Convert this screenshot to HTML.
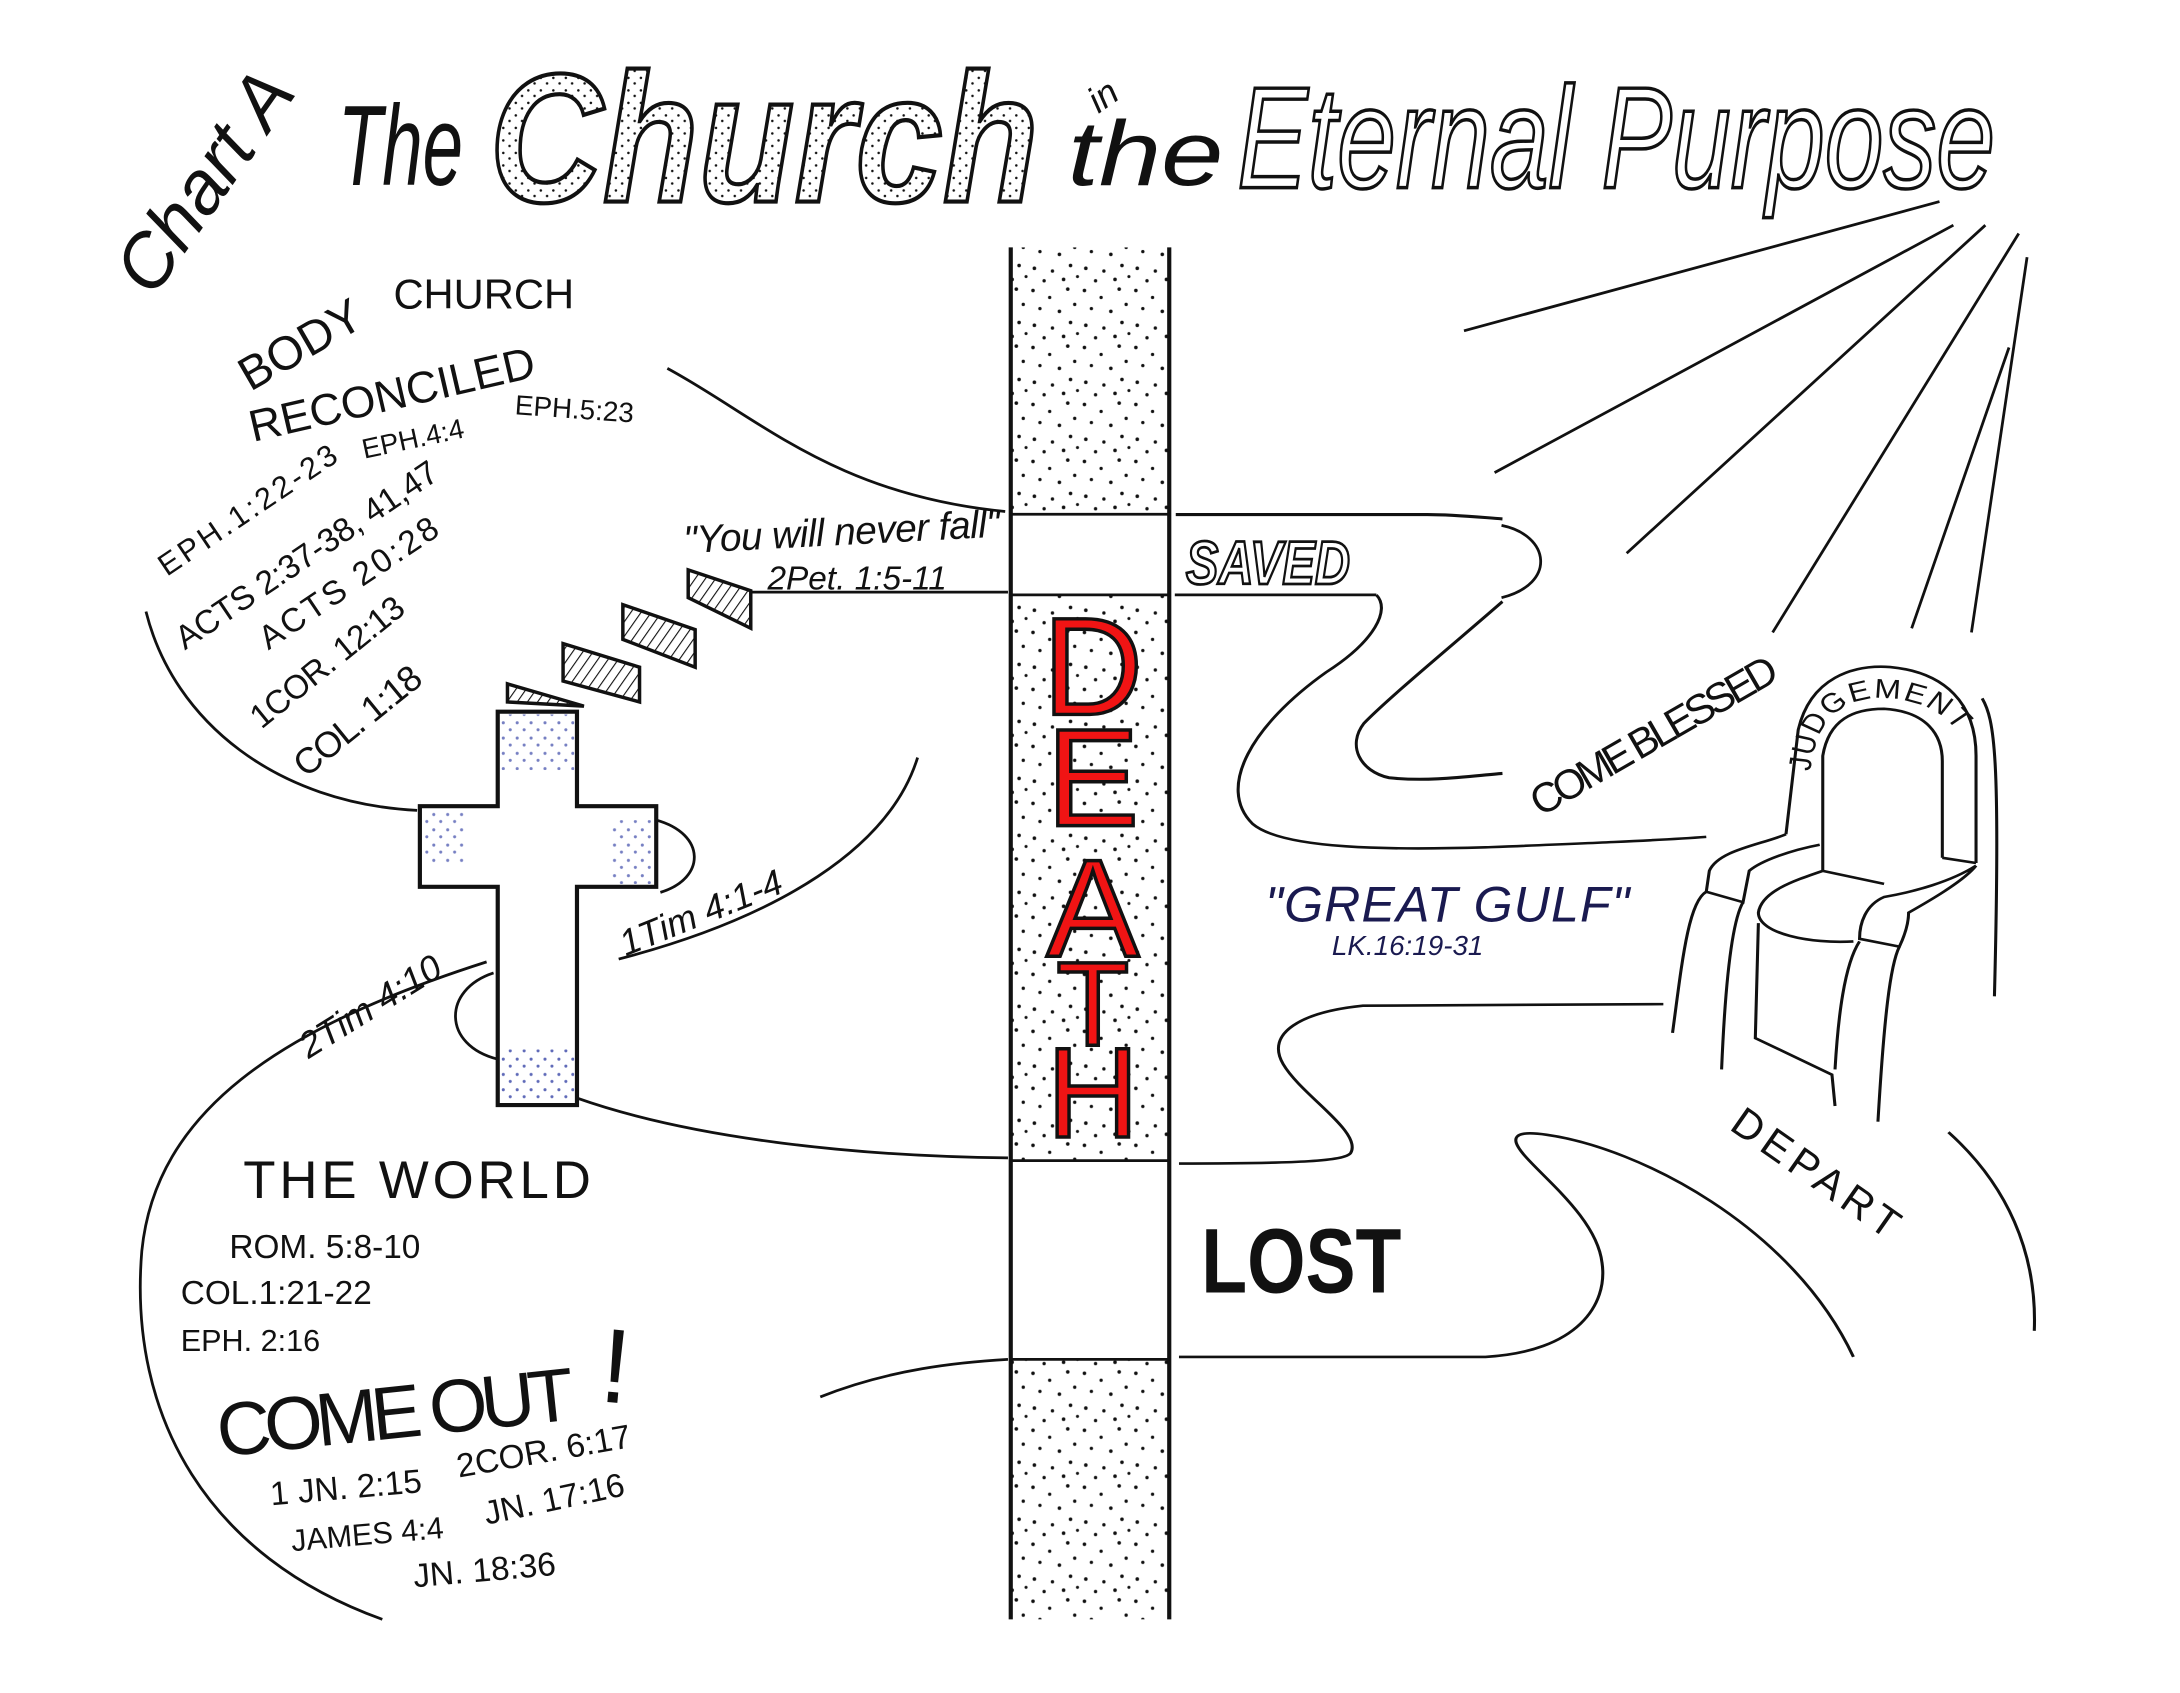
<!DOCTYPE html>
<html><head><meta charset="utf-8"><style>
html,body{margin:0;padding:0;background:#fff;}
svg{display:block;}
text{font-family:"Liberation Sans","DejaVu Sans",sans-serif;fill:#111;}
</style></head><body>
<svg width="2180" height="1693" viewBox="0 0 1568 1218" preserveAspectRatio="none" xmlns="http://www.w3.org/2000/svg">
<defs>
<pattern id="dots" width="37" height="41" patternUnits="userSpaceOnUse">
<g fill="#111">
<circle cx="3" cy="4" r="1.3"/><circle cx="15" cy="9" r="1.2"/><circle cx="28" cy="3" r="1.3"/><circle cx="8" cy="17" r="1.2"/><circle cx="22" cy="19" r="1.3"/><circle cx="33" cy="14" r="1.2"/><circle cx="4" cy="29" r="1.3"/><circle cx="17" cy="31" r="1.2"/><circle cx="30" cy="27" r="1.3"/><circle cx="11" cy="38" r="1.2"/><circle cx="25" cy="37" r="1.3"/><circle cx="35" cy="35" r="1.1"/>
</g></pattern>
<pattern id="fine" width="9" height="9" patternUnits="userSpaceOnUse"><circle cx="2" cy="2" r="0.9" fill="#111"/><circle cx="6.5" cy="6" r="0.9" fill="#111"/></pattern>
<pattern id="blue" width="10" height="11" patternUnits="userSpaceOnUse"><circle cx="2" cy="3" r="1.1" fill="#1a2a9a"/><circle cx="7" cy="8" r="1.1" fill="#1a2a9a"/></pattern>
<pattern id="hatch" width="6" height="6" patternUnits="userSpaceOnUse" patternTransform="rotate(35)"><line x1="0" y1="0" x2="0" y2="6" stroke="#111" stroke-width="1.6"/></pattern>
<path id="arcJ" d="M1030,330 C1040,210 1100,185 1160,190 C1250,200 1290,260 1292,340"/>
</defs>

<!-- Title -->
<text transform="translate(110,215) rotate(-55)" font-size="54" font-style="italic" font-weight="300">Chart A</text>
<text x="243" y="133" font-size="82" font-style="italic" textLength="90" lengthAdjust="spacingAndGlyphs">The</text>
<text x="352" y="145" font-size="132" font-style="italic" font-weight="bold" textLength="395" lengthAdjust="spacingAndGlyphs" stroke="#111" stroke-width="3" style="fill:url(#fine)">Church</text>
<text transform="translate(790,82) rotate(-35)" font-size="26" font-style="italic">in</text>
<text x="768" y="133" font-size="66" font-style="italic" textLength="112" lengthAdjust="spacingAndGlyphs">the</text>
<text x="890" y="135" font-size="104" font-style="italic" textLength="545" lengthAdjust="spacingAndGlyphs" stroke="#111" stroke-width="2.5" style="fill:#fff">Eternal Purpose</text>

<!-- rays -->
<g stroke="#111" stroke-width="2" fill="none">
<line x1="1053" y1="238" x2="1395" y2="145"/>
<line x1="1075" y1="340" x2="1405" y2="162"/>
<line x1="1170" y1="398" x2="1428" y2="162"/>
<line x1="1275" y1="455" x2="1452" y2="168"/>
<line x1="1375" y1="452" x2="1445" y2="250"/>
<line x1="1418" y1="455" x2="1458" y2="185"/>
</g>

<!-- death column -->
<rect x="727" y="178" width="114" height="192" fill="url(#dots)"/>
<rect x="727" y="428" width="114" height="407" fill="url(#dots)"/>
<rect x="727" y="978" width="114" height="187" fill="url(#dots)"/>
<g stroke="#111" stroke-width="3" fill="none">
<line x1="727" y1="178" x2="727" y2="1165"/>
<line x1="841" y1="178" x2="841" y2="1165"/>
<line x1="727" y1="370" x2="841" y2="370" stroke-width="2"/>
<line x1="727" y1="428" x2="841" y2="428" stroke-width="2"/>
<line x1="727" y1="835" x2="841" y2="835" stroke-width="2"/>
<line x1="727" y1="978" x2="841" y2="978" stroke-width="2"/>
</g>
<g font-size="100" stroke="#111" stroke-width="2.5" text-anchor="middle">
<text x="786" y="514" style="fill:#f01414">D</text>
<text x="786" y="594" style="fill:#f01414">E</text>
<text x="786" y="688" style="fill:#f01414">A</text>
<text x="786" y="752" style="fill:#f01414" font-size="86">T</text>
<text x="786" y="818" style="fill:#f01414" font-size="92">H</text>
</g>

<!-- left curves -->
<g stroke="#111" stroke-width="2" fill="none">
<path d="M480,265 C545,300 600,356 723,368"/>
<path d="M105,440 C125,520 200,578 300,583"/>
<path d="M472,590 C508,600 508,632 475,642"/>
<path d="M660,545 C640,610 560,660 445,690"/>
<path d="M355,700 C318,712 318,752 358,762"/>
<path d="M350,692 C200,740 112,800 102,900 C92,1020 150,1120 275,1165"/>
<path d="M415,790 C500,820 620,832 725,833"/>
<path d="M590,1005 C640,985 690,980 725,978"/>
<line x1="540" y1="426" x2="725" y2="426"/>
</g>

<!-- right roads -->
<g transform="translate(604,245) scale(0.304,0.313)" stroke="#111" stroke-width="7" fill="none">
<path d="M795,400 L1390,400 C1450,400 1500,405 1568,410"/>
<path d="M1568,600 C1450,700 1300,820 1240,880 C1200,930 1230,990 1300,1005 C1400,1015 1500,1000 1568,995"/>
</g>
<g stroke="#111" stroke-width="2" fill="none">
<path d="M1080,378 C1115,385 1120,420 1080,430"/>
<line x1="845" y1="428" x2="990" y2="428"/>
</g>

<g transform="translate(848,431) scale(0.441,0.376)" stroke="#111" stroke-width="5" fill="none">
<path d="M322,-8 C345,20 320,80 240,140 C120,240 60,360 120,430 C170,480 350,480 500,475 C650,468 780,462 860,455"/>
<path d="M790,775 L300,778 C200,790 140,830 170,890 C200,950 300,1020 280,1060 C270,1075 200,1080 0,1080"/>
<path d="M0,1450 L500,1450 C650,1440 700,1350 690,1270 C680,1170 560,1080 550,1040 C545,1020 570,1020 600,1025 C750,1050 1000,1200 1100,1450"/>
<path d="M1255,1020 C1350,1120 1400,1250 1395,1400"/>
<!-- throne -->
<path d="M990,450 L1010,250 C1030,150 1100,125 1160,130 C1250,140 1300,200 1300,300 L1300,505"/>
<path d="M1050,520 L1050,300 C1060,230 1100,210 1150,210 C1220,215 1245,260 1245,310 L1245,495"/>
<path d="M1245,495 L1300,505"/>
<path d="M1310,190 C1330,230 1340,300 1330,760"/>
<path d="M990,450 C950,470 880,480 865,520 L860,560 L920,580 L930,520 C950,500 1000,480 1045,470"/>
<path d="M1050,520 C1000,540 950,560 945,600 C945,640 1030,660 1100,655 M1050,520 L1150,545"/>
<path d="M1300,510 C1260,540 1200,560 1150,570 C1120,585 1110,620 1110,650 L1175,665 C1185,640 1190,620 1190,600 C1220,580 1280,540 1300,510"/>
<path d="M860,560 C830,580 820,700 805,830"/>
<path d="M920,580 C900,620 890,760 885,900"/>
<path d="M945,620 L940,840 L1065,910 L1070,970"/>
<path d="M1110,655 C1085,700 1075,800 1070,900"/>
<path d="M1175,665 C1160,700 1150,800 1140,1000"/>
<text font-size="52" stroke="none" fill="#111" letter-spacing="3"><textPath href="#arcJ">JUDGEMENT</textPath></text>
</g>

<!-- cross -->
<path d="M358,512 L415,512 L415,580 L472,580 L472,638 L415,638 L415,795 L358,795 L358,638 L302,638 L302,580 L358,580 Z" fill="#fff" stroke="#111" stroke-width="3"/>
<rect x="360" y="514" width="53" height="40" fill="url(#blue)" opacity="0.6"/>
<rect x="304" y="582" width="30" height="40" fill="url(#blue)" opacity="0.6"/>
<rect x="440" y="590" width="30" height="46" fill="url(#blue)" opacity="0.6"/>
<rect x="360" y="755" width="53" height="38" fill="url(#blue)" opacity="0.7"/>

<!-- stairs -->
<g stroke="#111" stroke-width="2.5" fill="url(#hatch)">
<path d="M365,492 L365,505 L420,508 Z"/>
<path d="M405,463 L405,490 L460,505 L460,480 Z"/>
<path d="M448,435 L448,460 L500,480 L500,453 Z"/>
<path d="M495,410 L495,430 L540,452 L540,425 Z"/>
</g>

<!-- left texts -->
<text transform="translate(180,282) rotate(-30)" font-size="34">BODY</text>
<text x="283" y="222" font-size="30">CHURCH</text>
<text transform="translate(182,318) rotate(-13)" font-size="32" textLength="210">RECONCILED</text>
<text transform="translate(262,330) rotate(-12)" font-size="20">EPH.4:4</text>
<text transform="translate(370,298) rotate(4)" font-size="20">EPH.5:23</text>
<text transform="translate(120,415) rotate(-34)" font-size="22" textLength="150">EPH.1:22-23</text>
<text transform="translate(133,468) rotate(-34)" font-size="24" textLength="222">ACTS 2:37-38, 41,47</text>
<text transform="translate(193,468) rotate(-34)" font-size="24" textLength="150">ACTS 20:28</text>
<text transform="translate(188,525) rotate(-39)" font-size="24" textLength="135">1COR. 12:13</text>
<text transform="translate(220,560) rotate(-39)" font-size="26" textLength="110">COL. 1:18</text>
<text transform="translate(492,398) rotate(-3)" font-size="28" font-style="italic" textLength="228">"You will never fall"</text>
<text x="552" y="424" font-size="24" font-style="italic">2Pet. 1:5-11</text>
<text transform="translate(450,688) rotate(-22)" font-size="26" font-style="italic">1Tim 4:1-4</text>
<text transform="translate(222,762) rotate(-32)" font-size="26" font-style="italic">2Tim 4:10</text>

<text x="175" y="862" font-size="38" textLength="250">THE WORLD</text>
<text x="165" y="905" font-size="24">ROM. 5:8-10</text>
<text x="130" y="938" font-size="24">COL.1:21-22</text>
<text x="130" y="972" font-size="22">EPH. 2:16</text>
<text transform="translate(158,1048) rotate(-6)" font-size="54" textLength="258">COME OUT</text>
<text transform="translate(430,1008) rotate(5)" font-size="76">!</text>
<text transform="translate(195,1083) rotate(-5)" font-size="24">1 JN. 2:15</text>
<text transform="translate(330,1063) rotate(-10)" font-size="24">2COR. 6:17</text>
<text transform="translate(210,1116) rotate(-5)" font-size="22">JAMES 4:4</text>
<text transform="translate(350,1097) rotate(-12)" font-size="24">JN. 17:16</text>
<text transform="translate(298,1142) rotate(-5)" font-size="24">JN. 18:36</text>

<!-- right texts -->
<text x="853" y="420" font-size="44" font-style="italic" font-weight="bold" stroke="#111" stroke-width="2" textLength="118" lengthAdjust="spacingAndGlyphs" style="fill:#fff">SAVED</text>
<text x="910" y="663" font-size="36" font-style="italic" style="fill:#1a1a50" textLength="262">"GREAT GULF"</text>
<text x="958" y="687" font-size="20" font-style="italic" style="fill:#1a1a50">LK.16:19-31</text>
<text transform="translate(1108,588) rotate(-30)" font-size="30" textLength="200">COME BLESSED</text>
<text transform="translate(1243,812) rotate(35)" font-size="30" textLength="140">DEPART</text>
<text x="864" y="930" font-size="66" font-weight="bold" textLength="144" lengthAdjust="spacingAndGlyphs">LOST</text>
</svg>
</body></html>
